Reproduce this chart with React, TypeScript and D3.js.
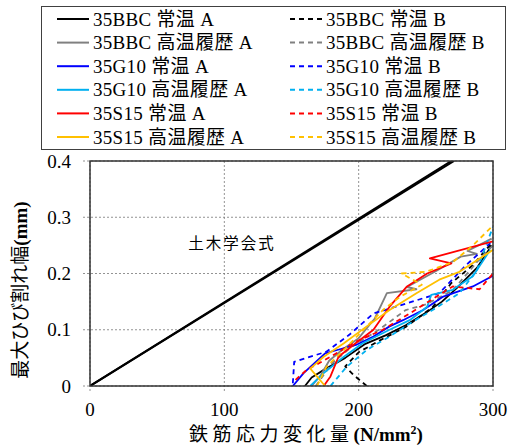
import * as React from 'react';
import { useEffect, useRef } from 'react';
import * as d3 from 'd3';

type Pt = [number, number];

// 土木学会式 (two nearly identical lines)
const formulaA: Pt[] = [[0, 0], [269, 0.4]];
const formulaB: Pt[] = [[0, 0], [271, 0.4]];

const bbcNormalA: Pt[] = [[160, 0], [165, 0.015], [175, 0.03], [190, 0.05], [205, 0.075], [220, 0.09], [235, 0.108], [250, 0.13], [262, 0.15], [273, 0.174], [288, 0.21], [299, 0.25]];
const bbcNormalB: Pt[] = [[206, 0], [196, 0.02], [190, 0.035], [200, 0.06], [215, 0.08], [235, 0.105], [255, 0.14], [269, 0.183], [285, 0.215], [299, 0.254]];
const bbcHotA: Pt[] = [[165, 0], [172, 0.02], [178, 0.045], [188, 0.065], [200, 0.085], [212, 0.12], [221, 0.165], [243, 0.172], [236, 0.176], [258, 0.205], [276, 0.23], [288, 0.235], [281, 0.24], [299, 0.262]];
const bbcHotB: Pt[] = [[168, 0], [180, 0.04], [195, 0.07], [215, 0.1], [235, 0.135], [250, 0.145], [270, 0.17], [288, 0.22], [300, 0.25]];
const g10NormalA: Pt[] = [[151, 0], [159, 0.023], [175, 0.058], [184, 0.064], [198, 0.073], [211, 0.088], [223, 0.106], [233, 0.117], [248, 0.135], [263, 0.159], [285, 0.177], [300, 0.196]];
const g10NormalB: Pt[] = [[151, 0.005], [152, 0.043], [176, 0.061], [193, 0.091], [211, 0.129], [236, 0.147], [260, 0.165], [280, 0.215], [298, 0.254]];
const g10HotA: Pt[] = [[164, 0], [174, 0.023], [189, 0.052], [203, 0.076], [223, 0.1], [238, 0.117], [251, 0.141], [254, 0.162], [270, 0.171], [285, 0.195], [298, 0.242]];
const g10HotB: Pt[] = [[179, 0], [191, 0.034], [206, 0.064], [223, 0.088], [238, 0.111], [255, 0.135], [275, 0.165], [288, 0.206], [300, 0.283]];
const s15NormalA: Pt[] = [[174, 0], [179, 0.017], [185, 0.052], [196, 0.073], [211, 0.1], [223, 0.141], [236, 0.177], [251, 0.2], [269, 0.218], [253, 0.227], [300, 0.257]];
const s15NormalB: Pt[] = [[153, 0.011], [161, 0.028], [179, 0.052], [198, 0.079], [218, 0.1], [238, 0.129], [258, 0.159], [270, 0.177], [290, 0.172], [300, 0.2]];
const s15HotA: Pt[] = [[175, 0], [164, 0.031], [174, 0.052], [189, 0.076], [206, 0.106], [223, 0.135], [243, 0.165], [260, 0.189], [275, 0.203], [300, 0.242]];
const s15HotB: Pt[] = [[169, 0], [176, 0.034], [189, 0.064], [206, 0.106], [218, 0.135], [231, 0.159], [247, 0.18], [232, 0.2], [250, 0.203], [270, 0.22], [285, 0.25], [300, 0.285]];

const series = [
  { name: '35BBC 常温 A', data: bbcNormalA, color: '#000000', dash: false },
  { name: '35BBC 常温 B', data: bbcNormalB, color: '#000000', dash: true },
  { name: '35BBC 高温履歴 A', data: bbcHotA, color: '#808080', dash: false },
  { name: '35BBC 高温履歴 B', data: bbcHotB, color: '#808080', dash: true },
  { name: '35G10 常温 A', data: g10NormalA, color: '#0000ff', dash: false },
  { name: '35G10 常温 B', data: g10NormalB, color: '#0000ff', dash: true },
  { name: '35G10 高温履歴 A', data: g10HotA, color: '#00b0f0', dash: false },
  { name: '35G10 高温履歴 B', data: g10HotB, color: '#00b0f0', dash: true },
  { name: '35S15 常温 A', data: s15NormalA, color: '#ff0000', dash: false },
  { name: '35S15 常温 B', data: s15NormalB, color: '#ff0000', dash: true },
  { name: '35S15 高温履歴 A', data: s15HotA, color: '#ffc000', dash: false },
  { name: '35S15 高温履歴 B', data: s15HotB, color: '#ffc000', dash: true },
];

const xTicks = [0, 100, 200, 300];
const yTicks = [0, 0.1, 0.2, 0.3, 0.4];

const serif = '"Liberation Serif", "Noto Sans CJK JP", serif';
const gothic = '"Noto Sans CJK JP", sans-serif';

export default function App() {
  const ref = useRef<SVGSVGElement>(null);

  useEffect(() => {
    const svg = d3.select(ref.current);
    svg.selectAll('*').remove();

    const x = d3.scaleLinear().domain([0, 300]).range([90, 493]);
    const y = d3.scaleLinear().domain([0, 0.4]).range([386, 161]);

    // legend
    const lg = svg.append('g');
    lg.append('rect').attr('x', 41.5).attr('y', 6.5).attr('width', 464).attr('height', 143)
      .attr('fill', 'none').attr('stroke', '#404040').attr('stroke-width', 1);
    series.forEach((s, i) => {
      const col = i % 2;
      const row = Math.floor(i / 2);
      const lx = col === 0 ? 57 : 290;
      const ly = 19 + row * 23.6;
      lg.append('line').attr('x1', lx).attr('x2', lx + 32).attr('y1', ly).attr('y2', ly)
        .attr('stroke', s.color).attr('stroke-width', 2)
        .attr('stroke-dasharray', s.dash ? '5,4' : null);
      lg.append('text').attr('x', lx + 36).attr('y', ly + 6.5)
        .attr('font-family', serif).attr('font-size', 19).attr('letter-spacing', 0.3).attr('fill', '#000')
        .text(s.name);
    });

    // grid
    const grid = svg.append('g').attr('stroke', '#777').attr('stroke-width', 0.8).attr('stroke-dasharray', '2,2');
    yTicks.forEach(t => {
      grid.append('line').attr('x1', 83).attr('x2', 493).attr('y1', y(t)).attr('y2', y(t));
    });
    xTicks.forEach(t => {
      grid.append('line').attr('x1', x(t)).attr('x2', x(t)).attr('y1', 161).attr('y2', 393);
    });

    // tick labels
    yTicks.forEach(t => {
      svg.append('text').attr('x', 71).attr('y', y(t) + 6.5).attr('text-anchor', 'end')
        .attr('font-family', serif).attr('font-size', 19).text(t === 0 ? '0' : d3.format('.1f')(t));
    });
    xTicks.forEach(t => {
      svg.append('text').attr('x', x(t)).attr('y', 416).attr('text-anchor', 'middle')
        .attr('font-family', serif).attr('font-size', 19).text(String(t));
    });

    // clip
    svg.append('clipPath').attr('id', 'plot-clip').append('rect')
      .attr('x', 90).attr('y', 161).attr('width', 403).attr('height', 225);

    const line = d3.line<Pt>().x(d => x(d[0])).y(d => y(d[1]));
    const plot = svg.append('g').attr('clip-path', 'url(#plot-clip)');

    [formulaA, formulaB].forEach(f => {
      plot.append('path').attr('d', line(f)).attr('fill', 'none')
        .attr('stroke', '#000').attr('stroke-width', 2);
    });

    series.forEach(s => {
      plot.append('path').attr('d', line(s.data)).attr('fill', 'none')
        .attr('stroke', s.color).attr('stroke-width', 1.8)
        .attr('stroke-linejoin', 'round')
        .attr('stroke-dasharray', s.dash ? '5,4' : null);
    });

    // frame
    svg.append('rect').attr('x', 90).attr('y', 161).attr('width', 403).attr('height', 225)
      .attr('fill', 'none').attr('stroke', '#333').attr('stroke-width', 1.5);

    svg.append('text').attr('x', 232).attr('y', 249).attr('text-anchor', 'middle')
      .attr('font-family', gothic).attr('font-size', 15.5).attr('letter-spacing', 2)
      .text('土木学会式');

    // axis titles
    const xt = svg.append('text').attr('x', 306).attr('y', 441).attr('text-anchor', 'middle')
      .attr('font-size', 19);
    xt.append('tspan').attr('font-family', gothic).attr('letter-spacing', 4.5).text('鉄筋応力変化量');
    xt.append('tspan').attr('font-family', serif).attr('font-weight', 'bold').text('(N/mm');
    xt.append('tspan').attr('font-family', serif).attr('font-weight', 'bold')
      .attr('font-size', 12).attr('dy', -7).text('2');
    xt.append('tspan').attr('font-family', serif).attr('font-weight', 'bold').attr('dy', 7).text(')');

    const yt = svg.append('text').attr('transform', 'translate(27,290) rotate(-90)')
      .attr('text-anchor', 'middle').attr('font-size', 19);
    yt.append('tspan').attr('font-family', gothic).text('最大ひび割れ幅');
    yt.append('tspan').attr('font-family', serif).attr('font-weight', 'bold').text('(mm)');
  }, []);

  return (
    <svg ref={ref} width={510} height={447}
      style={{ position: 'absolute', left: 0, top: 0, background: '#fff' }} />
  );
}
